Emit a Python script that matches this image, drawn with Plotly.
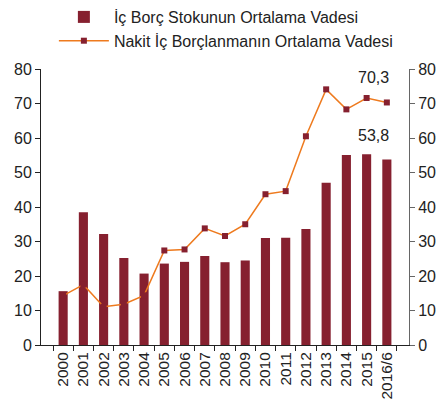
import plotly.graph_objects as go

years = ["2000", "2001", "2002", "2003", "2004", "2005", "2006", "2007", "2008",
         "2009", "2010", "2011", "2012", "2013", "2014", "2015", "2016/6"]
stock_maturity = [15.6, 38.5, 32.2, 25.2, 20.7, 23.6, 24.1, 25.8, 24.0,
                  24.5, 31.0, 31.1, 33.6, 47.0, 55.1, 55.3, 53.8]
cash_maturity = [14.3, 17.5, 11.1, 11.8, 14.4, 27.4, 27.7, 33.8, 31.6,
                 35.0, 43.7, 44.6, 60.5, 74.1, 68.3, 71.6, 70.3]
y_ticks = [0, 10, 20, 30, 40, 50, 60, 70, 80]

bar_name = "İç Borç Stokunun Ortalama Vadesi"
line_name = "Nakit İç Borçlanmanın Ortalama Vadesi"

BAR = "#86202f"
LINE = "#ee7a1e"
FONT = "Liberation Sans, Arial, sans-serif"

fig = go.Figure()
fig.add_trace(go.Bar(x=years, y=stock_maturity, name=bar_name,
                     marker=dict(color=BAR, line=dict(width=0)), width=0.45))
fig.add_trace(go.Scatter(x=years, y=cash_maturity, name=line_name, yaxis="y2",
                         mode="lines+markers",
                         line=dict(color=LINE, width=1.5),
                         marker=dict(symbol="square", size=6, color=BAR)))

fig.add_annotation(x=years[-1], y=cash_maturity[-1], text=f"{cash_maturity[-1]}".replace(".", ","),
                   showarrow=False, yref="y2", yanchor="bottom", yshift=14, xshift=-13,
                   font=dict(size=16, color="#222"))
fig.add_annotation(x=years[-1], y=stock_maturity[-1], text=f"{stock_maturity[-1]}".replace(".", ","),
                   showarrow=False, yanchor="bottom", yshift=13, xshift=-13,
                   font=dict(size=16, color="#222"))

axis_common = dict(range=[0, 80], tickvals=y_ticks, showgrid=False, zeroline=False,
                   showline=True, ticks="outside", ticklen=5, tickfont=dict(size=16, color="#222"))

fig.update_layout(
    width=444, height=408,
    margin=dict(l=41, r=35, t=69, b=63, autoexpand=False),
    paper_bgcolor="white", plot_bgcolor="white",
    font=dict(family=FONT, size=15, color="#222"),
    showlegend=True,
    legend=dict(x=0.035, y=1.0, xanchor="left", yanchor="top",
                xref="paper", yref="container",
                font=dict(size=16, color="#222"), itemwidth=50,
                bgcolor="rgba(0,0,0,0)", tracegroupgap=4),
    bargap=0.5,
    xaxis=dict(type="category", tickangle=-90, showline=True, linecolor="#222",
               ticks="outside", ticklen=5, tickson="boundaries", tickcolor="#222",
               tickfont=dict(size=15.5, color="#222"), showgrid=False),
    yaxis=dict(**axis_common, linecolor="#222", tickcolor="#222"),
    yaxis2=dict(**axis_common, overlaying="y", side="right", linecolor="#666", tickcolor="#666"),
)

fig.write_html("out.html", config={"displayModeBar": False},
               post_script="document.body.style.margin='0';")
